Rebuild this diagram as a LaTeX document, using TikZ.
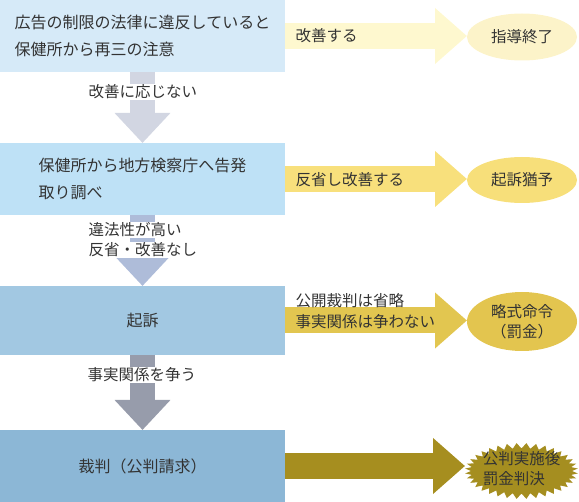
\documentclass[tikz,border=0pt]{standalone}
\usepackage{fontspec}
\setmainfont{Noto Sans CJK JP}
\usetikzlibrary{shapes.geometric,arrows.meta}
\definecolor{txt}{HTML}{333333}
\definecolor{bxa}{HTML}{D6EAF8}
\definecolor{bxb}{HTML}{BEE1F6}
\definecolor{bxc}{HTML}{A2C8E2}
\definecolor{bxd}{HTML}{8CB7D6}
\definecolor{dna}{HTML}{D2D6E2}
\definecolor{dnb}{HTML}{AEBCD9}
\definecolor{dnc}{HTML}{979CAB}
\definecolor{rta}{HTML}{FEF8CF}
\definecolor{rtb}{HTML}{F8E07C}
\definecolor{rtc}{HTML}{E2C650}
\definecolor{rtd}{HTML}{A68E1F}
\definecolor{ela}{HTML}{FCF3C9}
\definecolor{elb}{HTML}{F7DF7A}
\definecolor{elc}{HTML}{E3C54F}
\definecolor{std}{HTML}{A58E20}
\tikzset{
  box/.style={rectangle, inner sep=0pt, outer sep=0pt, minimum width=285pt, align=left,
    font=\fontsize{16}{27}\selectfont, text=txt},
  oval/.style={ellipse, inner sep=0pt, outer sep=0pt, minimum width=110pt, align=center,
    font=\fontsize{15.5}{20}\selectfont, text=txt},
  rarrow/.style={line width=26pt, -{Triangle[length=32pt,width=54pt]}},
  darrow/.style={line width=25pt, -{Triangle[length=30pt,width=54pt]}},
  lbl/.style={anchor=west, inner sep=0.5pt, font=\fontsize{15.5}{20}\selectfont, text=txt},
  wlbl/.style={lbl, fill=white}
}
\begin{document}
\begin{tikzpicture}[x=1pt,y=-1pt]
\useasboundingbox (0,0) rectangle (579,502);
% boxes
\node[box, fill=bxa, minimum height=72pt] (b1) at (142.5,36) {広告の制限の法律に違反していると\\保健所から再三の注意};
\node[box, fill=bxb, minimum height=72pt, font=\fontsize{16}{26.5}\selectfont] (b2) at (142.5,179) {保健所から地方検察庁へ告発\\取り調べ};
\node[box, fill=bxc, minimum height=69pt] (b3) at (142.5,320.5) {起訴};
\node[box, fill=bxd, minimum height=72pt] (b4) at (142.5,466) {裁判（公判請求）};
% ovals
\node[oval, fill=ela, minimum height=47pt] (e1) at (522,37) {指導終了};
\node[oval, fill=elb, minimum height=46pt] (e2) at (522,180) {起訴猶予};
\node[oval, fill=elc, minimum height=59pt] (e3) at (522,321.5) {略式命令\\（罰金）};
% starburst
\fill[std] plot[samples at={0,5,...,355}]
  ({521.5+cos(\x)*(50.5+6*mod(round(\x/5),2))},{471+sin(\x)*(22.5+5.5*mod(round(\x/5),2))}) -- cycle;
\node[ellipse, inner sep=0pt, outer sep=0pt, minimum width=113pt, minimum height=55pt, align=left,
  font=\fontsize{15.5}{20}\selectfont, text=txt] (st) at (521.5,469) {公判実施後\\罰金判決};
% right arrows
\draw[rarrow, rta] (b1.east) -- (b1.east -| e1.west);
\draw[rarrow, rtb] (b2.east) -- (b2.east -| e2.west);
\draw[rarrow, rtc] (b3.east) -- (b3.east -| e3.west);
\draw[rarrow, rtd] (b4.east) -- (b4.east -| st.west);
% down arrows
\draw[darrow, dna] (b1.south) -- (b2.north);
\draw[darrow, dnb] (b2.south) -- (b3.north);
\draw[darrow, dnc] (b3.south) -- (b4.north);
% labels
\node[lbl] (r1) at (295,36) {改善する};
\node[lbl] (r2) at (295,180) {反省し改善する};
\node[lbl] (r3a) at (295,301) {公開裁判は省略};
\node[lbl] (r3b) at (295,322) {事実関係は争わない};
\node[wlbl] (d1) at (88,92) {改善に応じない};
\node[wlbl] (d2a) at (88,230) {違法性が高い};
\node[wlbl] (d2b) at (88,250) {反省・改善なし};
\node[wlbl] (d3) at (87,375) {事実関係を争う};
\end{tikzpicture}
\end{document}
